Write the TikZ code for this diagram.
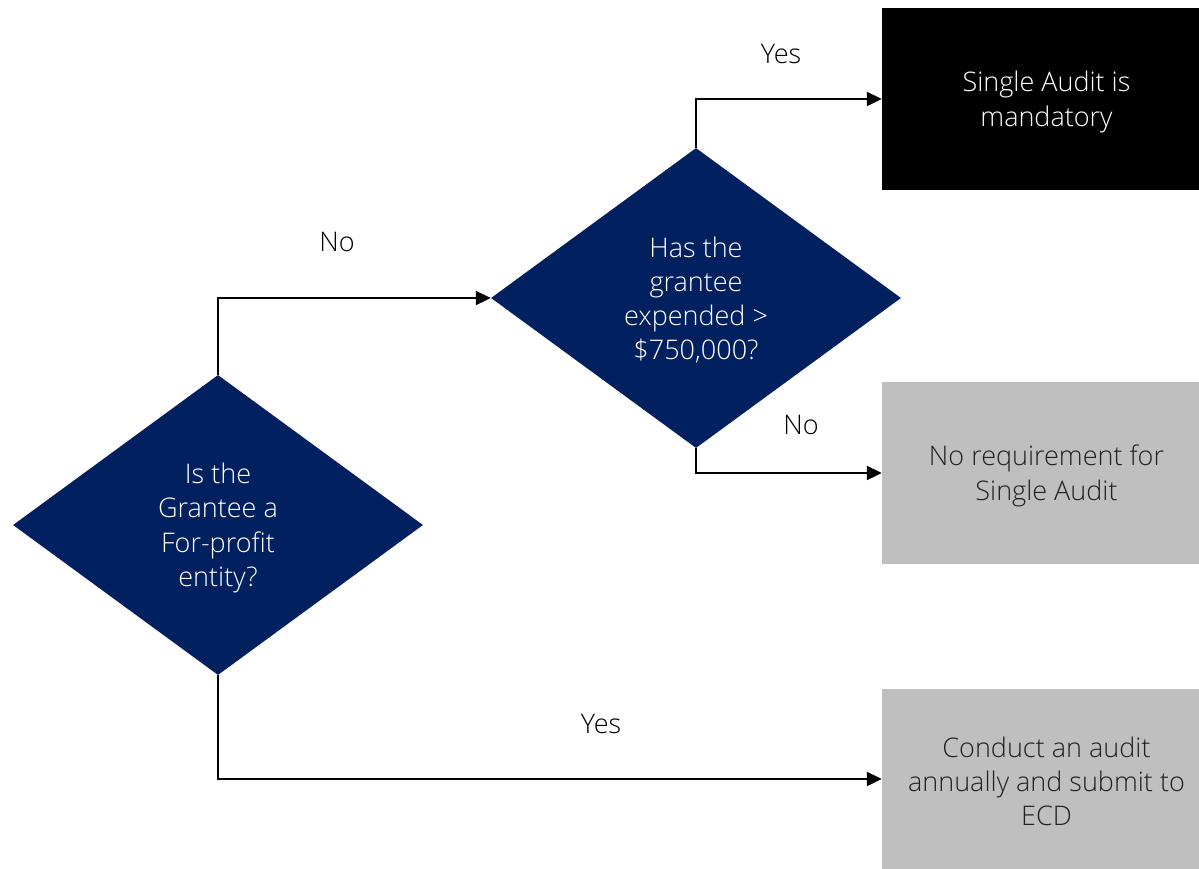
\documentclass[tikz,border=0pt]{standalone}
\usepackage{fontspec}
\setmainfont{Open Sans}[UprightFont={* Light}]
\usetikzlibrary{shapes.geometric,arrows.meta}
\definecolor{navy}{HTML}{002060}
\definecolor{boxgray}{HTML}{BFBFBF}
\definecolor{txtdark}{HTML}{222222}
\tikzset{
  dec/.style={diamond, fill=navy, inner sep=0pt, minimum width=410pt, minimum height=300pt, aspect=1.3667},
  outbox/.style={rectangle, inner sep=0pt, minimum width=317pt},
  txt/.style={align=center, inner sep=0pt, font=\fontsize{27}{34.3}\selectfont},
  conn/.style={line width=2pt, -{Triangle[length=15pt,width=14pt]}},
  lbl/.style={font=\fontsize{27}{34.3}\selectfont, text=black}
}
\begin{document}
\begin{tikzpicture}[x=1pt,y=-1pt]
\useasboundingbox (0,0) rectangle (1199,868);
\node[dec] (d1) at (218,525) {};
\node[dec] (d2) at (696,298) {};
\node[outbox, fill=black, minimum height=182pt] (b1) at (1040.5,99) {};
\node[outbox, fill=boxgray, minimum height=182pt] (b2) at (1040.5,473) {};
\node[outbox, fill=boxgray, minimum height=180pt] (b3) at (1040.5,779) {};
\node[txt, text=white] (d1t) at (218,528) {Is the\\Grantee a\\For-profit\\entity?};
\node[txt, text=white] (d2t) at (696,300) {Has the\\grantee\\expended >\\\$750,000?};
\node[txt, text=white] (b1t) at (1046.5,102) {Single Audit is\\mandatory};
\node[txt, text=txtdark] (b2t) at (1046.5,476) {No requirement for\\Single Audit};
\node[txt, text=txtdark] (b3t) at (1046.5,781.5) {Conduct an audit\\annually and submit to\\ECD};
\draw[conn] (d1.north) |- (d2.west);
\draw[conn] (d2.north) |- (b1.west);
\draw[conn] (d2.south) |- (b2.west);
\draw[conn] (d1.south) |- (b3.west);
\node[lbl] (l1) at (337,242) {No};
\node[lbl] (l2) at (781,54) {Yes};
\node[lbl] (l3) at (801,425) {No};
\node[lbl] (l4) at (601,724) {Yes};
\end{tikzpicture}
\end{document}
